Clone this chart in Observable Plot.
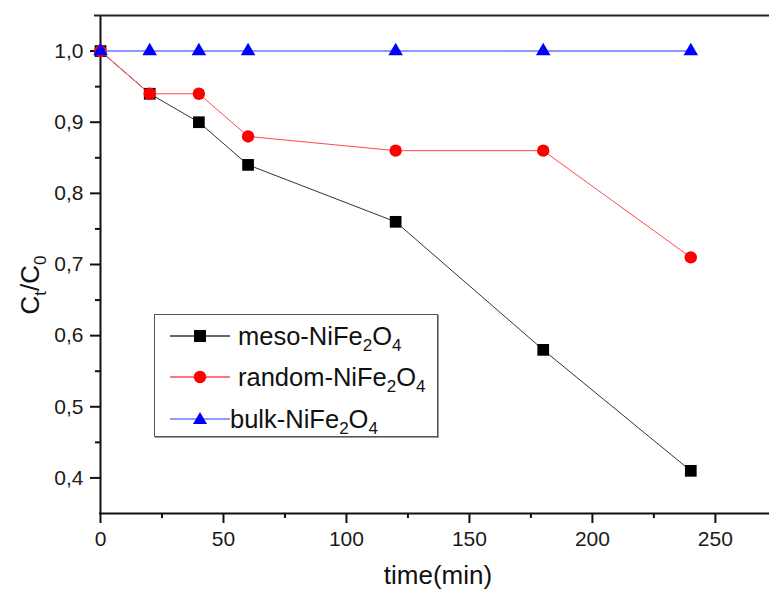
<!DOCTYPE html>
<html>
<head>
<meta charset="utf-8">
<script src="https://cdn.jsdelivr.net/npm/d3@7"></script>
<script src="https://cdn.jsdelivr.net/npm/@observablehq/plot@0.6"></script>
<style>
  html, body { margin: 0; padding: 0; background: #fff; }
  #wrap { position: relative; width: 769px; height: 592px; font-family: "Liberation Sans", Arial, sans-serif; }
  #legend { position: absolute; left: 154px; top: 314px; width: 284px; height: 123px; border: 1px solid #555; box-shadow: 1px 1px 0 #999; background: #fff; box-sizing: border-box; }
  .item { position: absolute; left: 0; height: 30px; display: flex; align-items: center; font-size: 25.5px; color: #111; white-space: nowrap; }
  .item svg { flex: none; }
  sub { font-size: 17px; vertical-align: -6px; line-height: 0; }
</style>
</head>
<body>
<div id="wrap"></div>
<script>
const times = [0, 20, 40, 60, 120, 180, 240];
const meso = [1.0, 0.94, 0.90, 0.84, 0.76, 0.58, 0.41];
const random = [1.0, 0.94, 0.94, 0.88, 0.86, 0.86, 0.71];
const bulk = [1.0, 1.0, 1.0, 1.0, 1.0, 1.0, 1.0];
const seriesNames = ["meso-NiFe", "random-NiFe", "bulk-NiFe"];
const xTicks = [0, 50, 100, 150, 200, 250];
const xMinor = [25, 75, 125, 175, 225];
const yTicks = [0.4, 0.5, 0.6, 0.7, 0.8, 0.9, 1.0];
const yMinor = [0.45, 0.55, 0.65, 0.75, 0.85, 0.95];

const mk = (vals, name) => times.map((t, i) => ({t, v: vals[i], name}));
const dMeso = mk(meso, seriesNames[0]);
const dRandom = mk(random, seriesNames[1]);
const dBulk = mk(bulk, seriesNames[2]);

const fmt = d => d3.format(".1f")(d).replace(".", ",");

const plot = Plot.plot({
  width: 769,
  height: 592,
  marginLeft: 100,
  marginRight: 0,
  marginTop: 15,
  marginBottom: 79,
  style: {fontFamily: "'Liberation Sans', Arial, sans-serif", fontSize: "21px", color: "#1a1a1a", background: "#fff"},
  x: {domain: [0, 272]},
  y: {domain: [0.35, 1.05]},
  marks: [
    Plot.axisX({ticks: xTicks, tickSize: 10, tickPadding: 8, label: null, tickFormat: d => d, fontSize: 21, stroke: "#111", strokeWidth: 2, strokeOpacity: 1}),
    Plot.axisX({ticks: xMinor, tickSize: 5, label: null, text: null, stroke: "#111", strokeWidth: 2, strokeOpacity: 1}),
    Plot.axisY({ticks: yTicks, tickSize: 10, tickPadding: 7, label: null, tickFormat: fmt, fontSize: 21, stroke: "#111", strokeWidth: 2, strokeOpacity: 1}),
    Plot.axisY({ticks: yMinor, tickSize: 5, label: null, text: null, stroke: "#111", strokeWidth: 2, strokeOpacity: 1}),
    Plot.ruleX([0], {stroke: "#111", strokeWidth: 2}),
    Plot.ruleY([0.35], {stroke: "#111", strokeWidth: 2, insetLeft: -1}),
    Plot.ruleY([1.05], {stroke: "#222", strokeWidth: 2, insetLeft: -6}),
    Plot.line(dMeso, {x: "t", y: "v", stroke: "#333", strokeWidth: 1}),
    Plot.dot(dMeso, {x: "t", y: "v", symbol: "square", r: 6.6, fill: "#000", stroke: "none"}),
    Plot.line(dRandom, {x: "t", y: "v", stroke: "#ff4a4a", strokeWidth: 1}),
    Plot.dot(dRandom, {x: "t", y: "v", symbol: "circle", r: 6.2, fill: "#ff0000", stroke: "none"}),
    Plot.line(dBulk, {x: "t", y: "v", stroke: "#7373ff", strokeWidth: 1.5}),
    Plot.dot(dBulk, {x: "t", y: "v", symbol: "triangle", r: 5.4, fill: "#0000ff", stroke: "none"})
  ]
});

const svg = d3.select(plot);
svg.selectAll("text").filter(function() { return this.textContent === ""; }).remove();

const yl = svg.append("text")
  .attr("transform", "translate(39,285) rotate(-90)")
  .attr("text-anchor", "middle")
  .attr("font-size", 26)
  .attr("fill", "#111");
yl.append("tspan").text("C");
yl.append("tspan").attr("font-size", 17).attr("dy", 7).text("t");
yl.append("tspan").attr("dy", -7).text("/C");
yl.append("tspan").attr("font-size", 17).attr("dy", 7).text("0");

svg.append("text")
  .attr("x", 438).attr("y", 584)
  .attr("text-anchor", "middle")
  .attr("font-size", 26)
  .attr("fill", "#111")
  .text("time(min)");

const wrap = document.getElementById("wrap");
wrap.appendChild(plot);

// legend
const legend = document.createElement("div");
legend.id = "legend";
const items = [
  {name: seriesNames[0], line: "#333", fill: "#000", sym: "square", top: 6, gap: 8},
  {name: seriesNames[1], line: "#ff4a4a", fill: "#ff0000", sym: "circle", top: 47, gap: 8},
  {name: seriesNames[2], line: "#7373ff", fill: "#0000ff", sym: "triangle", top: 89, gap: 0}
];
for (const it of items) {
  const div = document.createElement("div");
  div.className = "item";
  div.style.top = it.top + "px";
  let shape;
  if (it.sym === "square") shape = `<rect x="39" y="9" width="12" height="12" fill="${it.fill}"/>`;
  else if (it.sym === "circle") shape = `<circle cx="45" cy="15" r="6.2" fill="${it.fill}"/>`;
  else shape = `<path d="M45,8 L52,20 L38,20 Z" fill="${it.fill}"/>`;
  div.innerHTML = `<svg width="${75 + it.gap}" height="30"><line x1="15" x2="75" y1="15" y2="15" stroke="${it.line}" stroke-width="1.5"/>${shape}</svg><span>${it.name}<sub>2</sub>O<sub>4</sub></span>`;
  legend.appendChild(div);
}
wrap.appendChild(legend);
</script>
</body>
</html>
